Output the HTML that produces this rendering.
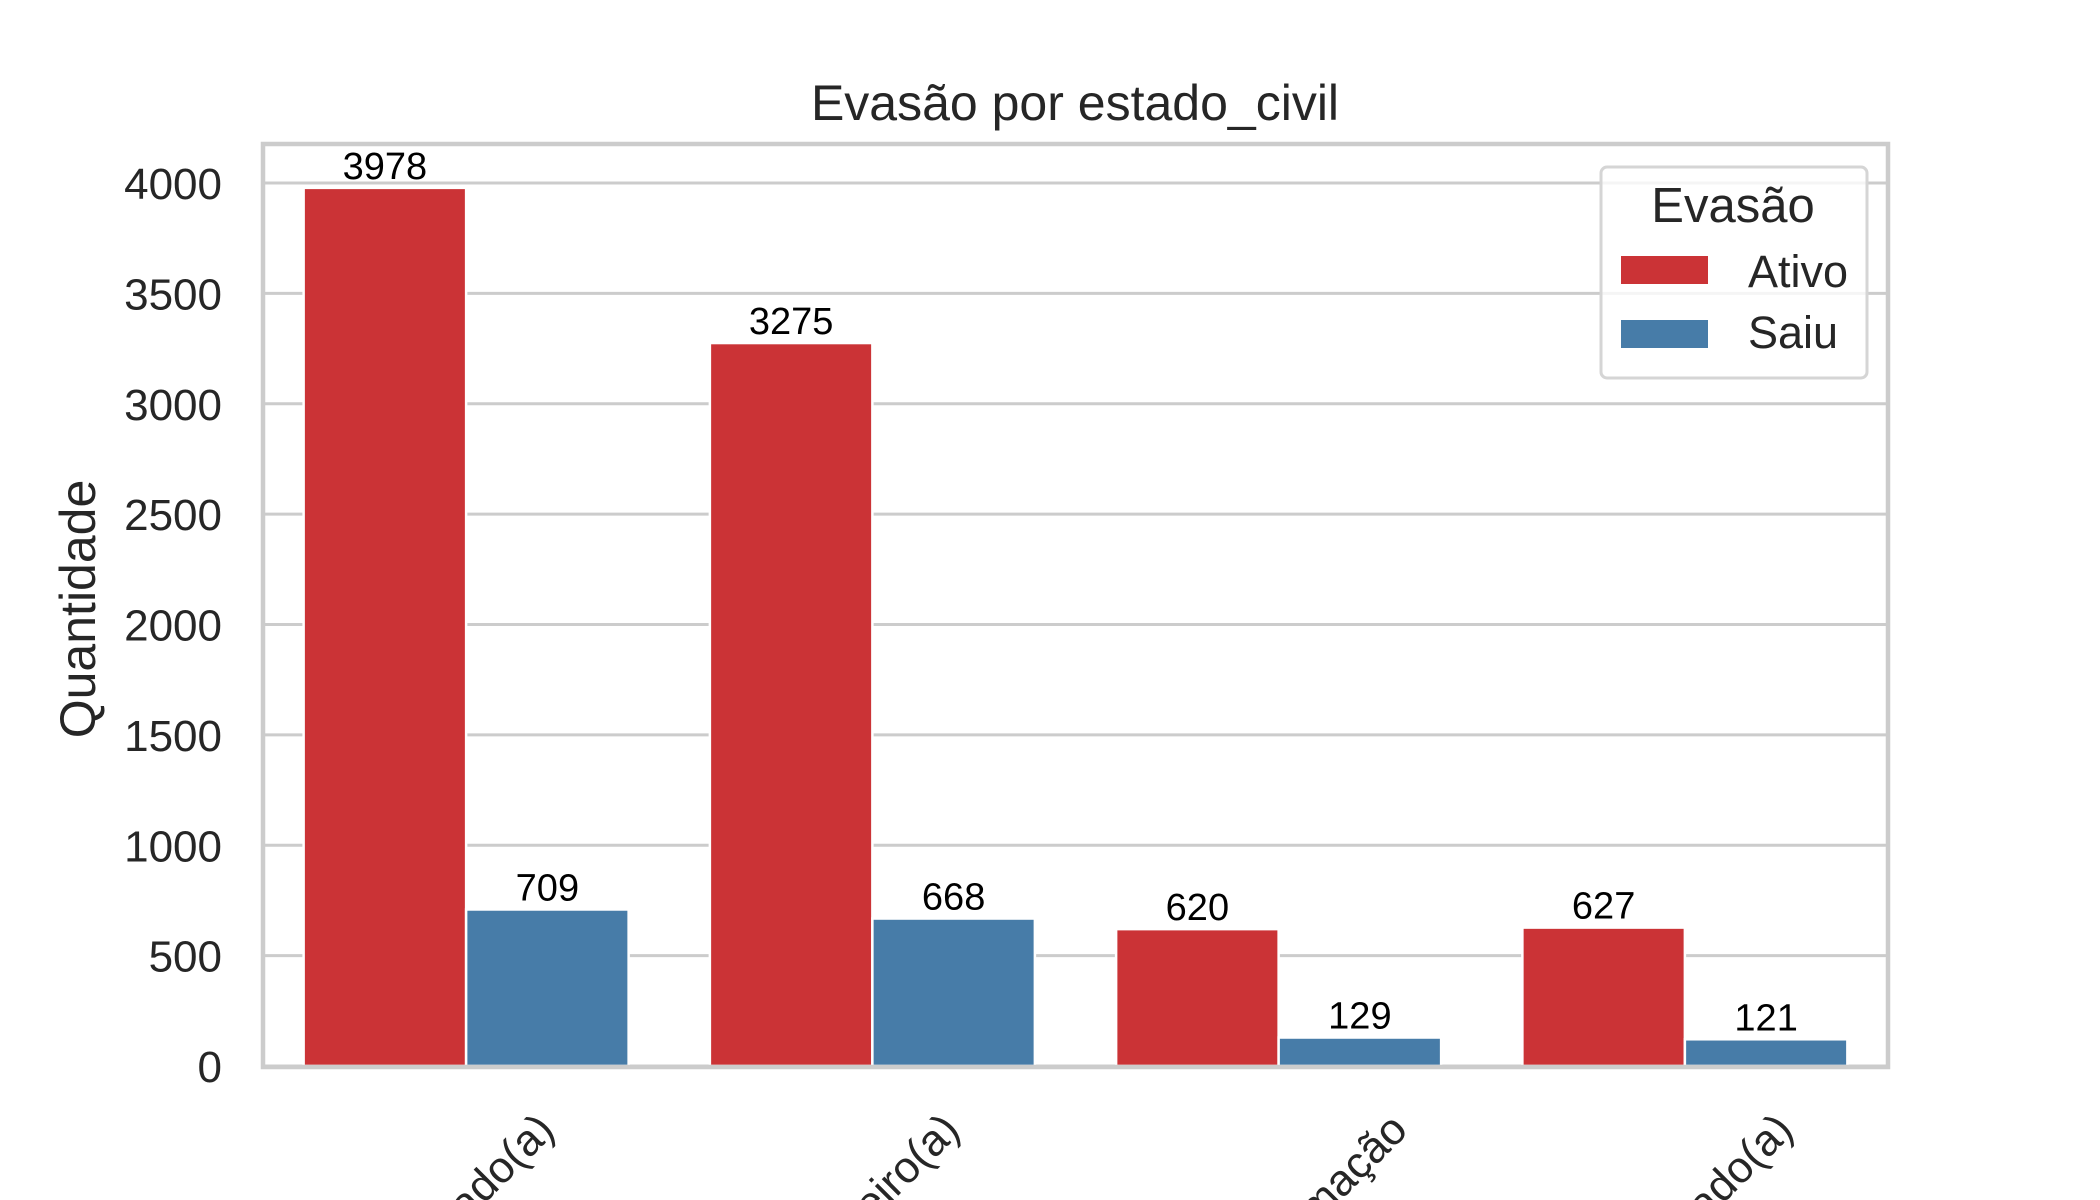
<!DOCTYPE html>
<html><head><meta charset="utf-8"><style>
html,body{margin:0;padding:0;background:#fff;overflow:hidden;width:2100px;height:1200px;}
svg{display:block;font-family:"Liberation Sans",Arial,sans-serif;}
</style></head><body>
<svg id="chart" width="2100" height="1200" viewBox="0 0 2100 1200" xmlns="http://www.w3.org/2000/svg">
<rect x="0" y="0" width="2100" height="1200" fill="#fff"/>
<g id="grid"></g>
<g id="bars"></g>
<g id="labels"></g>
<rect x="263" y="144" width="1625" height="923" fill="none" stroke="#cccccc" stroke-width="4.5"/>
<g id="yticks"></g>
<g id="xticks"></g>
<text x="1075" y="120" font-size="50" fill="#262626" text-anchor="middle">Evasão por estado_civil</text>
<text x="0" y="0" font-size="50" fill="#262626" text-anchor="middle" transform="translate(95,609) rotate(-90)">Quantidade</text>
<g>
<rect x="1601" y="167" width="266" height="211" rx="6" fill="#fff" fill-opacity="0.8" stroke="#d5d5d5" stroke-width="3"/>
<text x="1733" y="222" font-size="49" fill="#262626" text-anchor="middle">Evasão</text>
<rect x="1621" y="256" width="87" height="28" fill="#cb3336"/>
<text x="1748" y="287" font-size="45" fill="#262626">Ativo</text>
<rect x="1621" y="320" width="87" height="28" fill="#477ca8"/>
<text x="1748" y="348" font-size="45" fill="#262626">Saiu</text>
</g>
</svg>
<script>
const categories = ["Casado(a)", "Solteiro(a)", "Sem informação", "Divorciado(a)"];
const ativo = [3978, 3275, 620, 627];
const saiu = [709, 668, 129, 121];
const yTicks = [0, 500, 1000, 1500, 2000, 2500, 3000, 3500, 4000];

const NS = "http://www.w3.org/2000/svg";
const L = 263, R = 1888, Y0 = 1066, Y4000 = 183;
const band = (R - L) / categories.length;
function y(v){ return Y0 - (Y0 - Y4000) * v / 4000; }
function xc(i){ return L + band * (i + 0.5); }
function mk(tag, attrs, parent){
  const e = document.createElementNS(NS, tag);
  for (const k in attrs) e.setAttribute(k, attrs[k]);
  document.getElementById(parent).appendChild(e);
  return e;
}
yTicks.forEach(t => {
  const g = mk("line", {x1: L, x2: R, y1: y(t), y2: y(t), stroke: "#cccccc", "stroke-width": 3}, "grid");
  
  
  const tx = mk("text", {x: 222, y: y(t) + 16, "font-size": 44, fill: "#262626", "text-anchor": "end"}, "yticks");
  tx.textContent = t;
  
  
});
const bw = band * 0.4;
const series = [{vals: ativo, color: "#cb3336", off: -1, name: "ativo"}, {vals: saiu, color: "#477ca8", off: 0, name: "saiu"}];
categories.forEach((c, i) => {
  series.forEach(s => {
    const v = s.vals[i];
    const x0 = xc(i) + s.off * bw;
    const b = mk("rect", {x: x0, y: y(v), width: bw, height: Y0 - y(v), fill: s.color, stroke: "#fff", "stroke-width": 2.5}, "bars");
    
    
    const t = mk("text", {x: x0 + bw / 2, y: y(v) - 9, "font-size": 38, fill: "#000", "text-anchor": "middle"}, "labels");
    t.textContent = v;
    
    
  });
  const xt = mk("text", {x: 0, y: 1132, "font-size": 44, fill: "#262626", "text-anchor": "end"}, "xticks");
  xt.textContent = c;
  
  
  const len = xt.getComputedTextLength();
  const ex = xc(i) + (len + 44) * 0.354 + 2, ey = 1132;
  xt.setAttribute("x", ex);
  xt.setAttribute("transform", "rotate(-45 " + ex + " " + ey + ")");
});
</script>
</body></html>
